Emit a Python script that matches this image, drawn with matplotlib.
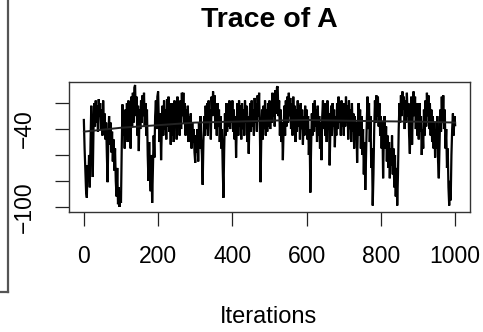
import numpy as np
import matplotlib
matplotlib.use("Agg")
import matplotlib.pyplot as plt
from matplotlib.lines import Line2D

# Sampled chain for parameter A (every 2nd iteration, 0..1000)
chain_a = [
    # 0-98
    -33, -55, -72, -88, -93, -68, -80, -60, -85, -50, -22, -45, -77, -40, -20,
    -38, -18, -35, -22, -42, -17, -30, -20, -40, -25, -45, -18, -36, -28, -48,
    -35, -60, -81, -45, -30, -52, -35, -58, -42, -65, -48, -72, -55, -80, -92,
    -70, -98, -85, -100, -90,
    # 100-198
    -97, -55, -21, -45, -28, -55, -25, -48, -20, -50, -18, -42, -22, -55, -15,
    -38, -12, -35, -8, -6, -30, -15, -45, -22, -57, -25, -40, -18, -35, -14,
    -30, -12, -38, -20, -45, -25, -60, -80, -50, -75, -88, -60, -97, -70, -45,
    -62, -30, -18, -40, -15,
    # 200-298
    -11, -35, -50, -28, -64, -40, -22, -45, -18, -40, -25, -48, -17, -38, -15,
    -42, -25, -52, -20, -45, -28, -50, -18, -35, -22, -48, -15, -38, -25, -45,
    -18, -40, -12, -30, -12, -35, -20, -45, -25, -42, -22, -50, -30, -45, -28,
    -55, -35, -50, -40, -58,
    # 300-398
    -66, -45, -58, -40, -65, -35, -55, -30, -48, -60, -83, -50, -30, -45, -22,
    -40, -20, -45, -18, -35, -25, -48, -15, -30, -11, -28, -14, -40, -22, -45,
    -20, -38, -25, -50, -30, -55, -40, -70, -93, -55, -28, -45, -20, -42, -25,
    -38, -18, -40, -22, -35,
    # 400-498
    -18, -42, -25, -48, -30, -62, -35, -20, -45, -18, -38, -22, -48, -20, -40,
    -25, -45, -18, -35, -22, -50, -30, -59, -35, -20, -42, -18, -38, -25, -45,
    -16, -35, -20, -42, -14, -30, -12, -40, -81, -45, -25, -48, -22, -40, -18,
    -45, -25, -42, -20, -38,
    # 500-598
    -18, -40, -20, -35, -12, -30, -15, -38, -10, -28, -8, -7, -30, -18, -45,
    -25, -50, -35, -64, -40, -22, -45, -18, -38, -15, -35, -12, -30, -16, -40,
    -20, -45, -15, -35, -22, -50, -25, -42, -18, -38, -22, -48, -20, -40, -25,
    -52, -30, -45, -22, -40,
    # 600-698
    -25, -48, -30, -60, -40, -89, -55, -28, -45, -20, -42, -18, -38, -25, -50,
    -22, -45, -30, -55, -35, -64, -30, -18, -40, -20, -45, -25, -50, -18, -40,
    -28, -68, -40, -22, -45, -20, -38, -25, -54, -30, -45, -20, -40, -15, -35,
    -22, -45, -18, -38, -25,
    # 700-798
    -45, -20, -38, -15, -35, -22, -48, -18, -40, -25, -50, -20, -42, -28, -55,
    -30, -48, -35, -66, -40, -20, -45, -25, -55, -30, -60, -40, -75, -50, -87,
    -60, -35, -15, -40, -20, -50, -30, -70, -55, -99, -75, -40, -18, -35, -14,
    -30, -15, -38, -20, -45,
    # 800-898
    -30, -55, -35, -78, -45, -30, -55, -38, -65, -45, -70, -50, -78, -55, -68,
    -45, -75, -55, -85, -60, -92, -70, -99, -75, -40, -20, -35, -14, -30, -11,
    -25, -15, -40, -18, -35, -12, -30, -20, -45, -59, -30, -15, -52, -25, -11,
    -30, -15, -40, -20, -45,
    # 900-1000
    -25, -48, -20, -42, -30, -60, -40, -55, -25, -45, -18, -38, -12, -30, -14,
    -40, -20, -45, -25, -50, -30, -55, -35, -62, -40, -55, -30, -65, -78, -50,
    -25, -42, -15, -35, -14, -40, -25, -55, -40, -70, -55, -85, -99, -80, -95,
    -60, -40, -28, -45, -30, -37,
]
iterations = np.linspace(0, 1000, len(chain_a))

# Smoothed trend of the chain
smooth_iter = [0, 100, 200, 300, 400, 500, 600, 700, 800, 900, 1000]
smooth_val = [-42, -39, -37, -35, -34.3, -33.5, -33, -33.5, -34, -34.3, -35]

xticks = [0, 200, 400, 600, 800, 1000]
yticks = [-100, -80, -60, -40, -20]
ytick_labels = ["\u2212100", "", "", "\u221240", ""]

plt.rcParams["font.family"] = ["Liberation Sans", "DejaVu Sans"]

W, H = 483, 332
fig = plt.figure(figsize=(W / 100, H / 100), dpi=100)
ax = fig.add_axes([69 / W, 1 - 212 / H, (470 - 69) / W, (212 - 82) / H])

ax.plot(iterations, chain_a, color="black", lw=1.6, solid_joinstyle="miter")
ax.plot(smooth_iter, smooth_val, color="#222222", lw=1.4)

ax.set_xlim(-40, 1040)
ax.set_ylim(-104, -3.7)
ax.set_xticks(xticks)
ax.set_xticklabels([str(v) for v in xticks])
ax.set_yticks(yticks)
ax.set_yticklabels(ytick_labels, rotation=90, va="center")

ax.tick_params(axis="both", direction="out", length=10, width=0.9,
               color="#222222", labelsize=16.5, pad=14)
for sp in ax.spines.values():
    sp.set_color("#333333")
    sp.set_linewidth(1.0)

fig.text(269 / W, 1 - 20 / H, "Trace of A", ha="center", va="center",
         fontsize=20.5, fontweight="bold")
fig.text(269 / W, 1 - 317 / H, "Iterations", ha="center", va="center",
         fontsize=17)

# Edge of the neighbouring panel frame
fig.add_artist(Line2D([7.5 / W, 7.5 / W], [1.0, 1 - 292 / H],
                      color="#555555", lw=1.6, transform=fig.transFigure))
fig.add_artist(Line2D([0, 7.5 / W], [1 - 292 / H, 1 - 292 / H],
                      color="#555555", lw=1.6, transform=fig.transFigure))

fig.savefig("out.png", dpi=100)
